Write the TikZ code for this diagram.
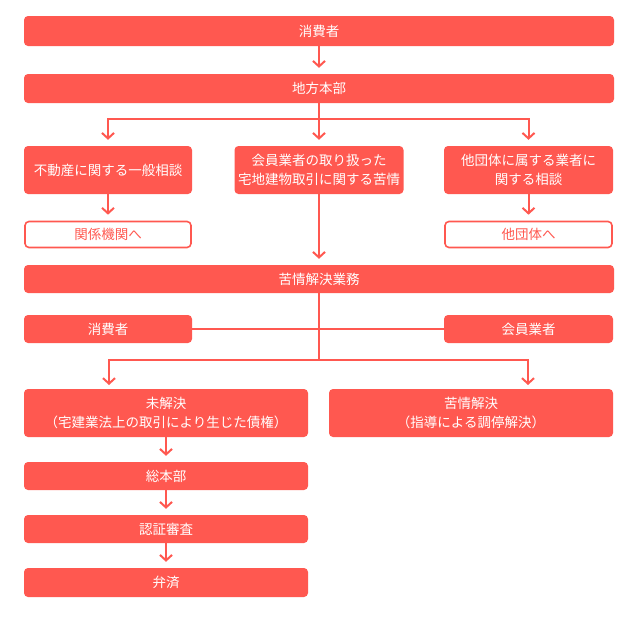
\documentclass[tikz,border=0pt]{standalone}
\usepackage{fontspec}
\newfontfamily\jp{Noto Sans CJK JP}
\usetikzlibrary{arrows.meta,calc}
\definecolor{brand}{RGB}{255,88,80}
\tikzset{
  fbox/.style={fill=brand,draw=none,rounded corners=4pt,text=white,inner sep=0pt,align=center,font=\jp\fontsize{13.5}{19}\selectfont},
  obox/.style={fill=white,draw=brand,line width=1.6pt,rounded corners=4pt,text=brand,inner sep=0pt,align=center,font=\jp\fontsize{13.5}{19}\selectfont},
  conn/.style={draw=brand,line width=2pt},
  arr/.style={conn,-{Straight Barb[length=5.5pt,width=12pt,line width=2pt]},shorten >=6pt},
}
\begin{document}
\begin{tikzpicture}[x=1pt,y=-1pt]
\useasboundingbox (0,0) rectangle (640,616);
\node[fbox,minimum width=590pt,minimum height=30pt] (c1) at (319,31) {消費者};
\node[fbox,minimum width=590pt,minimum height=29pt] (hq) at (319,88.5) {地方本部};
\node[fbox,minimum width=168pt,minimum height=48pt] (g) at (108,170) {不動産に関する一般相談};
\node[fbox,minimum width=169pt,minimum height=48pt] (m) at (319,170) {会員業者の取り扱った\\宅地建物取引に関する苦情};
\node[fbox,minimum width=169pt,minimum height=48pt] (o) at (528.5,170) {他団体に属する業者に\\関する相談};
\node[obox,minimum width=166pt,minimum height=26pt] (ga) at (108,234.5) {関係機関へ};
\node[obox,minimum width=167pt,minimum height=26pt] (oa) at (528.5,234.5) {他団体へ};
\node[fbox,minimum width=590pt,minimum height=28pt] (k) at (319,279) {苦情解決業務};
\node[fbox,minimum width=168pt,minimum height=28pt] (c2) at (108,329) {消費者};
\node[fbox,minimum width=169pt,minimum height=28pt] (mb) at (528.5,329) {会員業者};
\node[fbox,minimum width=284pt,minimum height=48pt] (u) at (166,413) {未解決\\（宅建業法上の取引により生じた債権）};
\node[fbox,minimum width=284pt,minimum height=48pt] (r) at (471,413) {苦情解決\\（指導による調停解決）};
\node[fbox,minimum width=284pt,minimum height=28pt] (s) at (166,476) {総本部};
\node[fbox,minimum width=284pt,minimum height=28pt] (n) at (166,529) {認証審査};
\node[fbox,minimum width=284pt,minimum height=29pt] (b) at (166,582.5) {弁済};
\coordinate (j1) at (319,119);
\coordinate (j2) at (319,360);
\coordinate (a1) at (109,389);
\coordinate (a2) at (528,389);
\draw[arr] (c1.south) -- (hq.north);
\draw[conn] (hq.south) -- (j1);
\draw[arr] (j1) -| (g.north);
\draw[arr] (j1) -| (o.north);
\draw[arr] (hq.south) -- (m.north);
\draw[arr] (g.south) -- (ga.north);
\draw[arr] (o.south) -- (oa.north);
\draw[arr] (m.south) -- (k.north);
\draw[conn] (k.south) -- (j2);
\draw[conn] (c2.east) -- (mb.west);
\draw[arr,shorten >=4pt] (j2) -| (a1);
\draw[arr,shorten >=4pt] (j2) -| (a2);
\draw[arr] (u.south) -- (s.north);
\draw[arr] (s.south) -- (n.north);
\draw[arr] (n.south) -- (b.north);
\end{tikzpicture}
\end{document}
